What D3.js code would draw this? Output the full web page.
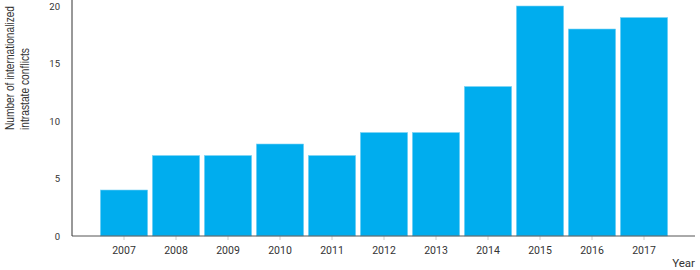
<!DOCTYPE html>
<html>
<head>
<meta charset="utf-8">
<script src="https://cdn.jsdelivr.net/npm/d3@7"></script>
<style>
  body { margin: 0; background: #fff; }
  svg text { font-family: Roboto, "Liberation Sans", sans-serif; }
</style>
</head>
<body>
<div id="chart"></div>
<script>
// data
const years = ["2007", "2008", "2009", "2010", "2011", "2012", "2013", "2014", "2015", "2016", "2017"];
const conflicts = [4, 7, 7, 8, 7, 9, 9, 13, 20, 18, 19];
const yTicks = [0, 5, 10, 15, 20];

var w = 700, h = 270;
var margin = { top: 6, right: 4, bottom: 34, left: 72 };
var width = w - margin.left - margin.right,
    height = h - margin.top - margin.bottom;

var svg = d3.select("#chart")
    .append("svg")
    .attr("width", w)
    .attr("height", h)
    .append("g")
    .attr("transform", `translate(${margin.left}, ${margin.top})`);

// the bars sit in 11 of 12 slots, half a slot in from the y axis
var step = width / 12;
var x = d3.scaleBand()
    .domain(years)
    .range([step / 2, step / 2 + step * years.length])
    .paddingInner(0.09)
    .paddingOuter(0.045);

var y = d3.scaleLinear()
    .domain([0, 20])
    .range([height, 0]);

// bars
svg.selectAll("rect.bar")
    .data(years)
    .join("rect")
    .attr("class", "bar")
    .attr("x", d => x(d))
    .attr("width", x.bandwidth())
    .attr("y", (d, i) => y(conflicts[i]))
    .attr("height", (d, i) => height - y(conflicts[i]))
    .attr("fill", "#00adee")
    .attr("stroke", "#7fd4f5")
    .attr("stroke-width", 0.6);

// x axis
var xAxis = svg.append("g")
    .attr("transform", `translate(0, ${height})`)
    .call(d3.axisBottom(x).tickSize(4).tickPadding(7));
xAxis.select(".domain").remove();
xAxis.selectAll(".tick line").attr("stroke", "#ccc");
xAxis.selectAll("text")
    .style("font-size", "10.5px")
    .attr("fill", "#333");

svg.append("line")
    .attr("x1", 0).attr("x2", width - 1)
    .attr("y1", height).attr("y2", height)
    .attr("stroke", "#555");

// y axis
var yAxis = svg.append("g")
    .call(d3.axisLeft(y).tickValues(yTicks).tickSize(0).tickPadding(12));
yAxis.select(".domain").attr("stroke", "#333").attr("d", `M0,${-margin.top}V${height}`);
yAxis.selectAll("text")
    .style("font-size", "9.5px")
    .attr("fill", "#333");

// axis titles
var ylab = svg.append("text")
    .attr("transform", `translate(${-margin.left + 14}, 124) rotate(-90)`)
    .attr("text-anchor", "start")
    .style("font-family", "'Liberation Sans', Arial, sans-serif")
    .style("font-size", "12px")
    .attr("fill", "#333");
ylab.append("tspan").attr("x", 0).attr("y", 0)
    .attr("textLength", 124).attr("lengthAdjust", "spacingAndGlyphs")
    .text("Number of internationalized");
ylab.append("tspan").attr("x", 0).attr("y", 15)
    .attr("textLength", 82).attr("lengthAdjust", "spacingAndGlyphs")
    .text("intrastate conflicts");

svg.append("text")
    .attr("x", width - 1)
    .attr("y", height + 31)
    .attr("text-anchor", "end")
    .style("font-size", "11.5px")
    .attr("fill", "#333")
    .text("Year");
</script>
</body>
</html>
